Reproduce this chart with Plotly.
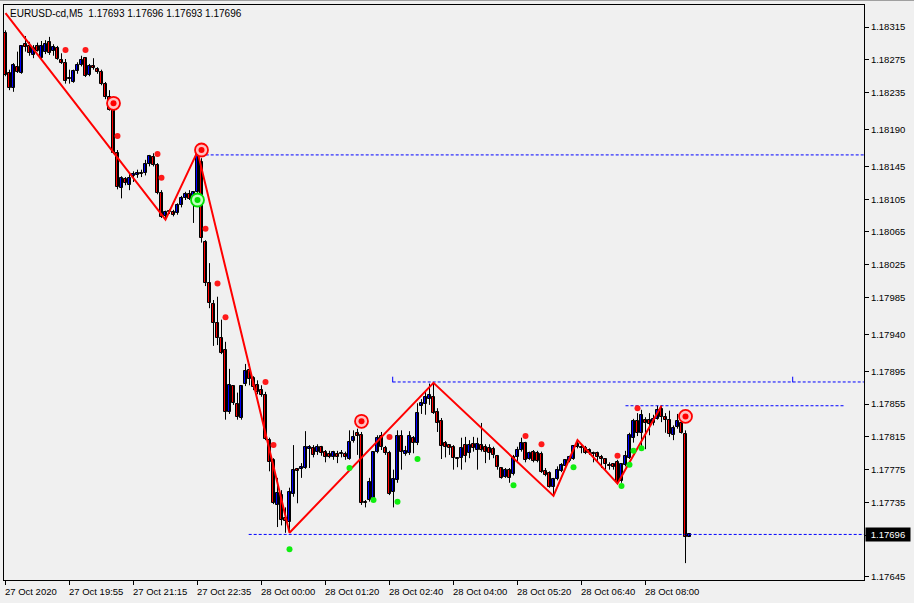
import plotly.graph_objects as go

# ---------------- data ----------------
title_text = "EURUSD-cd,M5  1.17693 1.17696 1.17693 1.17696"

time_labels = ["27 Oct 2020", "27 Oct 19:55", "27 Oct 21:15", "27 Oct 22:35",
               "28 Oct 00:00", "28 Oct 01:20", "28 Oct 02:40", "28 Oct 04:00",
               "28 Oct 05:20", "28 Oct 06:40", "28 Oct 08:00"]
time_label_bar = [0, 16, 32, 48, 64, 80, 96, 112, 128, 144, 160]

price_ticks = [1.18315, 1.18275, 1.18235, 1.18190, 1.18145, 1.18105, 1.18065,
               1.18025, 1.17985, 1.17940, 1.17895, 1.17855, 1.17815, 1.17775,
               1.17735, 1.17695, 1.17645]

opens = [1.18308, 1.18259, 1.18241, 1.18266, 1.18259, 1.18294, 1.18292, 1.18281, 1.18292, 1.18277,
         1.18285, 1.18297, 1.18286, 1.18289, 1.18275, 1.18271, 1.18253, 1.18248, 1.18261, 1.18269,
         1.18277, 1.18256, 1.18267, 1.18264, 1.18260, 1.18246, 1.18230, 1.18214, 1.18161, 1.18119,
         1.18130, 1.18122, 1.18133, 1.18134, 1.18137, 1.18137, 1.18148, 1.18156, 1.18147, 1.18113,
         1.18084, 1.18091, 1.18089, 1.18088, 1.18098, 1.18106, 1.18111, 1.18109, 1.18114, 1.18150,
         1.18053, 1.18003, 1.17977, 1.17954, 1.17936, 1.17921, 1.17845, 1.17877, 1.17855, 1.17838,
         1.17880, 1.17897, 1.17887, 1.17878, 1.17872, 1.17866, 1.17811, 1.17787, 1.17732, 1.17744,
         1.17716, 1.17711, 1.17745, 1.17776, 1.17776, 1.17777, 1.17800, 1.17801, 1.17797, 1.17803,
         1.17797, 1.17794, 1.17790, 1.17794, 1.17795, 1.17794, 1.17788, 1.17810, 1.17820, 1.17817,
         1.17736, 1.17738, 1.17740, 1.17797, 1.17816, 1.17801, 1.17795, 1.17748, 1.17762, 1.17816,
         1.17794, 1.17795, 1.17814, 1.17808, 1.17853, 1.17855, 1.17861, 1.17864, 1.17845, 1.17834,
         1.17808, 1.17805, 1.17803, 1.17789, 1.17789, 1.17805, 1.17795, 1.17806, 1.17799, 1.17805,
         1.17803, 1.17801, 1.17800, 1.17792, 1.17777, 1.17766, 1.17775, 1.17770, 1.17790, 1.17799,
         1.17808, 1.17788, 1.17797, 1.17795, 1.17794, 1.17773, 1.17771, 1.17754, 1.17764, 1.17773,
         1.17779, 1.17786, 1.17788, 1.17806, 1.17803, 1.17801, 1.17799, 1.17795, 1.17795, 1.17790,
         1.17788, 1.17781, 1.17782, 1.17784, 1.17761, 1.17781, 1.17789, 1.17814, 1.17834, 1.17820,
         1.17836, 1.17836, 1.17832, 1.17837, 1.17849, 1.17839, 1.17836, 1.17817, 1.17827, 1.17832,
         1.17819, 1.17693]
highs = [1.18311, 1.18263, 1.18271, 1.18285, 1.18293, 1.18304, 1.18297, 1.18293, 1.18296, 1.18298,
         1.18299, 1.18303, 1.18294, 1.18292, 1.18283, 1.18276, 1.18263, 1.18263, 1.18272, 1.18280,
         1.18278, 1.18270, 1.18277, 1.18266, 1.18263, 1.18248, 1.18238, 1.18216, 1.18165, 1.18133,
         1.18132, 1.18137, 1.18139, 1.18141, 1.18141, 1.18153, 1.18159, 1.18161, 1.18149, 1.18116,
         1.18091, 1.18093, 1.18092, 1.18100, 1.18109, 1.18114, 1.18116, 1.18115, 1.18163, 1.18155,
         1.18055, 1.18027, 1.17982, 1.17986, 1.17958, 1.17931, 1.17898, 1.17878, 1.17869, 1.17878,
         1.17904, 1.17904, 1.17889, 1.17884, 1.17878, 1.17870, 1.17814, 1.17789, 1.17765, 1.17750,
         1.17729, 1.17753, 1.17805, 1.17777, 1.17783, 1.17822, 1.17805, 1.17805, 1.17806, 1.17804,
         1.17799, 1.17798, 1.17798, 1.17798, 1.17799, 1.17797, 1.17823, 1.17823, 1.17825, 1.17821,
         1.17738, 1.17765, 1.17797, 1.17817, 1.17821, 1.17804, 1.17798, 1.17775, 1.17823, 1.17823,
         1.17804, 1.17822, 1.17816, 1.17856, 1.17861, 1.17871, 1.17880, 1.17881, 1.17850, 1.17838,
         1.17810, 1.17806, 1.17805, 1.17790, 1.17814, 1.17815, 1.17811, 1.17815, 1.17814, 1.17832,
         1.17806, 1.17806, 1.17803, 1.17793, 1.17778, 1.17777, 1.17777, 1.17793, 1.17803, 1.17814,
         1.17809, 1.17797, 1.17799, 1.17798, 1.17797, 1.17777, 1.17773, 1.17765, 1.17779, 1.17783,
         1.17788, 1.17792, 1.17805, 1.17811, 1.17805, 1.17804, 1.17801, 1.17797, 1.17797, 1.17793,
         1.17789, 1.17784, 1.17783, 1.17787, 1.17783, 1.17798, 1.17820, 1.17837, 1.17844, 1.17848,
         1.17839, 1.17844, 1.17842, 1.17853, 1.17853, 1.17844, 1.17847, 1.17829, 1.17843, 1.17839,
         1.17823, 1.17696]
lows = [1.18255, 1.18238, 1.18236, 1.18259, 1.18258, 1.18285, 1.18280, 1.18277, 1.18285, 1.18275,
        1.18282, 1.18281, 1.18280, 1.18275, 1.18270, 1.18246, 1.18246, 1.18247, 1.18258, 1.18267,
        1.18254, 1.18255, 1.18263, 1.18258, 1.18244, 1.18227, 1.18213, 1.18160, 1.18117, 1.18106,
        1.18122, 1.18116, 1.18126, 1.18131, 1.18132, 1.18134, 1.18145, 1.18145, 1.18111, 1.18082,
        1.18080, 1.18087, 1.18084, 1.18086, 1.18095, 1.18104, 1.18104, 1.18076, 1.18111, 1.18052,
        1.17999, 1.17972, 1.17926, 1.17927, 1.17916, 1.17836, 1.17843, 1.17854, 1.17836, 1.17836,
        1.17877, 1.17878, 1.17872, 1.17867, 1.17864, 1.17811, 1.17773, 1.17733, 1.17705, 1.17707,
        1.17698, 1.17698, 1.17742, 1.17734, 1.17765, 1.17776, 1.17777, 1.17790, 1.17793, 1.17792,
        1.17784, 1.17789, 1.17787, 1.17783, 1.17790, 1.17787, 1.17787, 1.17808, 1.17793, 1.17732,
        1.17729, 1.17736, 1.17738, 1.17795, 1.17799, 1.17793, 1.17744, 1.17729, 1.17759, 1.17775,
        1.17792, 1.17793, 1.17795, 1.17805, 1.17843, 1.17842, 1.17854, 1.17843, 1.17821, 1.17788,
        1.17790, 1.17793, 1.17775, 1.17778, 1.17775, 1.17784, 1.17789, 1.17797, 1.17775, 1.17797,
        1.17783, 1.17787, 1.17789, 1.17775, 1.17764, 1.17765, 1.17759, 1.17768, 1.17783, 1.17797,
        1.17784, 1.17787, 1.17784, 1.17784, 1.17771, 1.17767, 1.17753, 1.17743, 1.17762, 1.17772,
        1.17778, 1.17784, 1.17787, 1.17801, 1.17795, 1.17794, 1.17793, 1.17784, 1.17784, 1.17777,
        1.17775, 1.17775, 1.17775, 1.17758, 1.17759, 1.17779, 1.17788, 1.17808, 1.17816, 1.17801,
        1.17800, 1.17817, 1.17829, 1.17836, 1.17833, 1.17820, 1.17815, 1.17811, 1.17825, 1.17819,
        1.17661, 1.17693]
closes = [1.18256, 1.18241, 1.18269, 1.18260, 1.18292, 1.18291, 1.18283, 1.18289, 1.18286, 1.18292,
          1.18294, 1.18283, 1.18291, 1.18276, 1.18271, 1.18249, 1.18252, 1.18261, 1.18269, 1.18275,
          1.18255, 1.18267, 1.18265, 1.18260, 1.18246, 1.18230, 1.18214, 1.18161, 1.18120, 1.18131,
          1.18125, 1.18131, 1.18136, 1.18137, 1.18136, 1.18148, 1.18158, 1.18147, 1.18113, 1.18083,
          1.18089, 1.18089, 1.18086, 1.18098, 1.18106, 1.18111, 1.18105, 1.18114, 1.18159, 1.18058,
          1.18003, 1.17978, 1.17954, 1.17936, 1.17917, 1.17845, 1.17878, 1.17856, 1.17839, 1.17877,
          1.17895, 1.17886, 1.17876, 1.17870, 1.17866, 1.17812, 1.17784, 1.17734, 1.17747, 1.17714,
          1.17712, 1.17748, 1.17775, 1.17773, 1.17778, 1.17803, 1.17803, 1.17793, 1.17803, 1.17795,
          1.17790, 1.17790, 1.17797, 1.17790, 1.17794, 1.17790, 1.17809, 1.17815, 1.17816, 1.17734,
          1.17734, 1.17760, 1.17797, 1.17814, 1.17803, 1.17795, 1.17745, 1.17764, 1.17816, 1.17797,
          1.17798, 1.17816, 1.17808, 1.17844, 1.17856, 1.17864, 1.17866, 1.17844, 1.17832, 1.17804,
          1.17803, 1.17801, 1.17789, 1.17788, 1.17801, 1.17792, 1.17805, 1.17801, 1.17806, 1.17799,
          1.17797, 1.17795, 1.17793, 1.17778, 1.17765, 1.17775, 1.17765, 1.17790, 1.17799, 1.17808,
          1.17787, 1.17795, 1.17786, 1.17786, 1.17772, 1.17768, 1.17754, 1.17764, 1.17775, 1.17781,
          1.17787, 1.17790, 1.17804, 1.17803, 1.17801, 1.17795, 1.17795, 1.17794, 1.17790, 1.17788,
          1.17782, 1.17779, 1.17778, 1.17760, 1.17782, 1.17792, 1.17817, 1.17834, 1.17820, 1.17842,
          1.17832, 1.17831, 1.17837, 1.17848, 1.17839, 1.17836, 1.17819, 1.17826, 1.17834, 1.17820,
          1.17693, 1.17696]
bars = list(range(len(opens)))

# zigzag vertices (bar, price)
zigzag_bar = [0, 40, 48, 71, 107, 137, 143, 153, 164]
zigzag_price = [1.18332, 1.18080, 1.18163, 1.17698, 1.17881, 1.17743, 1.17811, 1.17758, 1.17853]

# signal dots
red_dot_bar = [15, 20, 28, 38, 39, 50, 53, 55, 65, 67, 96, 130, 134, 153, 158]
red_dot_price = [1.18287, 1.18287, 1.18182, 1.18160, 1.18131, 1.18069, 1.18002, 1.17961,
                 1.17882, 1.17805, 1.17815, 1.17816, 1.17806, 1.17792, 1.17850]
green_dot_bar = [71, 86, 92, 98, 103, 127, 142, 154, 156, 157, 159]
green_dot_price = [1.17678, 1.17777, 1.17738, 1.17736, 1.17788, 1.17756, 1.17778,
                   1.17755, 1.17781, 1.17798, 1.17801]

# target circles
red_target_bar = [27, 49, 89, 170]
red_target_price = [1.18222, 1.18165, 1.17834, 1.17840]
green_target_bar = [48]
green_target_price = [1.18104]

# dashed levels (start bar, end bar, price)
level_start = [48.8, 96.8, 155, 60.8]
level_end = [214.6, 214.6, 210, 214.6]
level_price = [1.18159, 1.17882, 1.17853, 1.17696]
level_mark_bar = [96.8, 196.8]
level_mark_price = [1.17885, 1.17885]

current_price = 1.17696

# ---------------- figure ----------------
BG = "#F0F0F0"
FONT = "Liberation Sans, Arial, sans-serif"
FS = 9.5
fig = go.Figure()

for s, e, p in zip(level_start, level_end, level_price):
    fig.add_trace(go.Scatter(x=[s, e], y=[p, p], mode="lines",
                             line=dict(color="#0000FF", width=1, dash="3px,2px"),
                             hoverinfo="skip", showlegend=False))
fig.add_trace(go.Scatter(x=level_mark_bar, y=level_mark_price, mode="markers",
                         marker=dict(symbol="line-ns", size=4, line=dict(color="#0000FF", width=1)),
                         hoverinfo="skip", showlegend=False))

# wicks
wx, wy = [], []
for i, h, l in zip(bars, highs, lows):
    wx += [i, i, None]
    wy += [l, h, None]
fig.add_trace(go.Scatter(x=wx, y=wy, mode="lines", line=dict(color="black", width=1),
                         hoverinfo="skip", showlegend=False))

# bodies
body_base = [min(o, c) for o, c in zip(opens, closes)]
body_len = [abs(c - o) for o, c in zip(opens, closes)]
body_col = ["#0000FF" if c > o else "#FF0000" for o, c in zip(opens, closes)]
fig.add_trace(go.Bar(x=bars, y=body_len, base=body_base, width=0.7,
                     marker=dict(color=body_col, line=dict(color="black", width=1)),
                     hoverinfo="skip", showlegend=False))

fig.add_trace(go.Scatter(x=zigzag_bar, y=zigzag_price, mode="lines",
                         line=dict(color="#FF0000", width=2),
                         hoverinfo="skip", showlegend=False))

fig.add_trace(go.Scatter(x=red_dot_bar, y=red_dot_price, mode="markers",
                         marker=dict(color="#FF1A1A", size=6, line=dict(width=0)),
                         hoverinfo="skip", showlegend=False))
fig.add_trace(go.Scatter(x=green_dot_bar, y=green_dot_price, mode="markers",
                         marker=dict(color="#10EE10", size=6, line=dict(width=0)),
                         hoverinfo="skip", showlegend=False))

for bx, py, ring, fill in [(red_target_bar, red_target_price, "#FF0000", "#FFC0C0"),
                           (green_target_bar, green_target_price, "#00DD00", "#C0FFC0")]:
    fig.add_trace(go.Scatter(x=bx, y=py, mode="markers",
                             marker=dict(color=fill, size=13, line=dict(color=ring, width=1.8)),
                             hoverinfo="skip", showlegend=False))
    fig.add_trace(go.Scatter(x=bx, y=py, mode="markers",
                             marker=dict(color=ring, size=6, line=dict(width=0)),
                             hoverinfo="skip", showlegend=False))

annotations = [dict(text=title_text, xref="paper", yref="paper", x=0, y=1,
                    xanchor="left", yanchor="top", xshift=4, yshift=-1, showarrow=False,
                    font=dict(family=FONT, size=FS + 0.5, color="black"))]
for b, t in zip(time_label_bar, time_labels):
    annotations.append(dict(text=t, x=b, xref="x", y=0, yref="paper",
                            xanchor="left", yanchor="top", xshift=-3, yshift=-4,
                            showarrow=False, font=dict(family=FONT, size=FS, color="black")))
annotations.append(dict(text=f"{current_price:.5f}", x=1, xref="paper", y=current_price, yref="y",
                        xanchor="left", yanchor="middle", xshift=1, showarrow=False,
                        bgcolor="black", borderpad=1, width=42, align="center",
                        font=dict(family=FONT, size=FS, color="white")))

fig.update_layout(
    width=914, height=603,
    margin=dict(l=4, r=50, t=5, b=23),
    paper_bgcolor=BG, plot_bgcolor=BG,
    showlegend=False, bargap=0,
    annotations=annotations,
    shapes=[dict(type="line", xref="paper", yref="paper", x0=-0.01, x1=1.1,
                 y0=1 + 4.5 / 575, y1=1 + 4.5 / 575, line=dict(color="#A0A0A0", width=1))],
    xaxis=dict(range=[-0.375, 214.625], tickvals=time_label_bar, showticklabels=False,
               ticks="outside", ticklen=4, tickcolor="black", showgrid=False, zeroline=False,
               showline=True, linecolor="black", linewidth=1, mirror=True, fixedrange=True),
    yaxis=dict(range=[1.176404, 1.183419], side="right", tickvals=price_ticks,
               ticktext=[f"{v:.5f}" for v in price_ticks], ticks="outside", ticklen=4,
               tickcolor="black", showgrid=False, zeroline=False,
               showline=True, linecolor="black", linewidth=1, mirror=True,
               tickfont=dict(family=FONT, size=FS, color="black"), fixedrange=True),
)

fig.write_html("out.html", config={"displayModeBar": False},
               post_script="document.body.style.margin='0px';")
